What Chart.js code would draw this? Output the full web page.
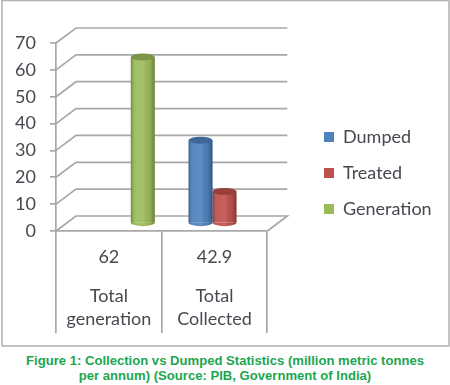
<!DOCTYPE html>
<html>
<head>
<meta charset="utf-8">
<style>
html, body { margin: 0; padding: 0; background: #fff; }
#wrap { position: relative; width: 450px; height: 385px; overflow: hidden; }
#myChart { position: absolute; left: 0; top: 0; filter: blur(0.35px); }
#caption {
	position: absolute; left: 0; top: 353px; width: 450px; margin: 0;
	text-align: center; color: #1ca650;
	font: bold 13.1px/15px "Liberation Sans", Arial, sans-serif;
}
</style>
<script src="https://cdn.jsdelivr.net/npm/chart.js@4/dist/chart.umd.min.js"></script>
</head>
<body>
<div id="wrap">
	<canvas id="myChart" width="450" height="347"></canvas>
	<p id="caption">Figure 1: Collection vs Dumped Statistics (million metric tonnes<br>per annum) (Source: PIB, Government of India)</p>
</div>
<script>
const categories = [['Total', 'generation'], ['Total', 'Collected']];
const tableRow = ['62', '42.9'];
const dumpedValues = [null, 31];
const treatedValues = [null, 11.9];
const generationValues = [62, null];
const yTicks = [0, 10, 20, 30, 40, 50, 60, 70];

const gridColor = '#a8a8a8';
const textColor = '#454a50';
const fontFamily = 'Lato, "Open Sans", sans-serif';
// the depth of the fake 3d box
const depthX = 20;
const depthY = -15;

const threeD = {
	id: 'threeD',
	beforeDraw(chart) {
		const ctx = chart.ctx;
		ctx.save();
		ctx.strokeStyle = '#b0b0b0';
		ctx.lineWidth = 1.5;
		ctx.strokeRect(2, 0.5, 447, 345.5);
		ctx.restore();
	},
	afterLayout(chart) {
		// move legend away from the plot
		const legend = chart.legend;
		const w = legend.width;
		legend.left = 306;
		legend.right = 306 + w;
		legend.top = 110;
		legend.bottom = 110 + legend.height;
	},
	beforeDatasetsDraw(chart) {
		const ctx = chart.ctx;
		const area = chart.chartArea;
		const y = chart.scales.y;
		const x = chart.scales.x;
		ctx.save();
		ctx.strokeStyle = gridColor;
		ctx.lineWidth = 1.7;
		yTicks.forEach(v => {
			const py = y.getPixelForValue(v);
			ctx.beginPath();
			ctx.moveTo(area.left, py);
			ctx.lineTo(area.left + depthX, py + depthY);
			ctx.lineTo(area.right + depthX, py + depthY);
			if (v === 0) {
				ctx.lineTo(area.right, py);
			}
			ctx.stroke();
		});
		// values row of the data table
		ctx.fillStyle = textColor;
		ctx.font = '18px ' + fontFamily;
		ctx.textAlign = 'center';
		ctx.textBaseline = 'middle';
		tableRow.forEach((t, i) => {
			ctx.fillText(t, x.getPixelForTick(i), 257);
		});
		ctx.restore();
		// bars stand in the middle of the box
		ctx.save();
		ctx.translate(depthX / 2, depthY / 2);
	},
	afterDatasetsDraw(chart) {
		const ctx = chart.ctx;
		chart.data.datasets.forEach((ds, i) => {
			chart.getDatasetMeta(i).data.forEach((el, j) => {
				if (ds.data[j] === null) return;
				const left = el.x - el.width / 2;
				const rx = el.width / 2;
				const ry = 3.5;
				const grad = ctx.createLinearGradient(left, 0, left + el.width, 0);
				grad.addColorStop(0, 'rgba(0,0,0,0.28)');
				grad.addColorStop(0.22, 'rgba(255,255,255,0.06)');
				grad.addColorStop(0.5, 'rgba(255,255,255,0.1)');
				grad.addColorStop(0.8, 'rgba(0,0,0,0.06)');
				grad.addColorStop(1, 'rgba(0,0,0,0.32)');
				// rounded bottom
				ctx.fillStyle = ds.backgroundColor;
				ctx.beginPath();
				ctx.ellipse(el.x, el.base, rx, ry, 0, 0, Math.PI);
				ctx.fill();
				// shading
				ctx.fillStyle = grad;
				ctx.beginPath();
				ctx.moveTo(left, el.y);
				ctx.lineTo(left + el.width, el.y);
				ctx.lineTo(left + el.width, el.base);
				ctx.ellipse(el.x, el.base, rx, ry, 0, 0, Math.PI);
				ctx.closePath();
				ctx.fill();
				// top
				ctx.fillStyle = ds.backgroundColor;
				ctx.beginPath();
				ctx.ellipse(el.x, el.y, rx, ry, 0, 0, Math.PI * 2);
				ctx.fill();
				ctx.fillStyle = 'rgba(0,0,0,0.2)';
				ctx.fill();
			});
		});
		ctx.restore();
	}
};

const ctx = document.getElementById('myChart').getContext('2d');
const myChart = new Chart(ctx, {
	type: 'bar',
	plugins: [threeD],
	data: {
		labels: categories,
		datasets: [
			{ label: 'Dumped', data: dumpedValues, backgroundColor: '#4f81bd', clip: false },
			{ label: 'Treated', data: treatedValues, backgroundColor: '#c0504d', clip: false },
			{ label: 'Generation', data: generationValues, backgroundColor: '#9bbb59', clip: false }
		]
	},
	options: {
		responsive: false,
		animation: false,
		categoryPercentage: 0.68,
		barPercentage: 1,
		layout: { padding: { top: 43, left: 0, right: 47, bottom: 0 } },
		plugins: {
			tooltip: { enabled: false },
			legend: {
				position: 'right',
				align: 'start',
				maxWidth: 160,
				labels: {
					boxWidth: 10,
					boxHeight: 10,
					padding: 18,
					color: textColor,
					font: { family: fontFamily, size: 18 }
				}
			}
		},
		scales: {
			x: {
				afterFit(s) { s.height = 116; },
				border: { color: gridColor, width: 1.7 },
				grid: { offset: true, drawOnChartArea: false, color: gridColor, lineWidth: 1.7, tickLength: 102 },
				ticks: {
					color: textColor,
					padding: -49,
					maxRotation: 0,
					font: { family: fontFamily, size: 18, lineHeight: 1.3 }
				}
			},
			y: {
				min: 0,
				max: 70,
				afterFit(s) { s.width = 56; },
				afterBuildTicks(s) { s.ticks = yTicks.map(v => ({ value: v })); },
				border: { color: gridColor, width: 1.7 },
				grid: { drawOnChartArea: false, color: gridColor, lineWidth: 1.7, tickLength: 6 },
				ticks: {
					color: textColor,
					padding: 14,
					font: { family: fontFamily, size: 18 }
				}
			}
		}
	}
});
console.log(myChart.chartArea);
</script>
</body>
</html>
